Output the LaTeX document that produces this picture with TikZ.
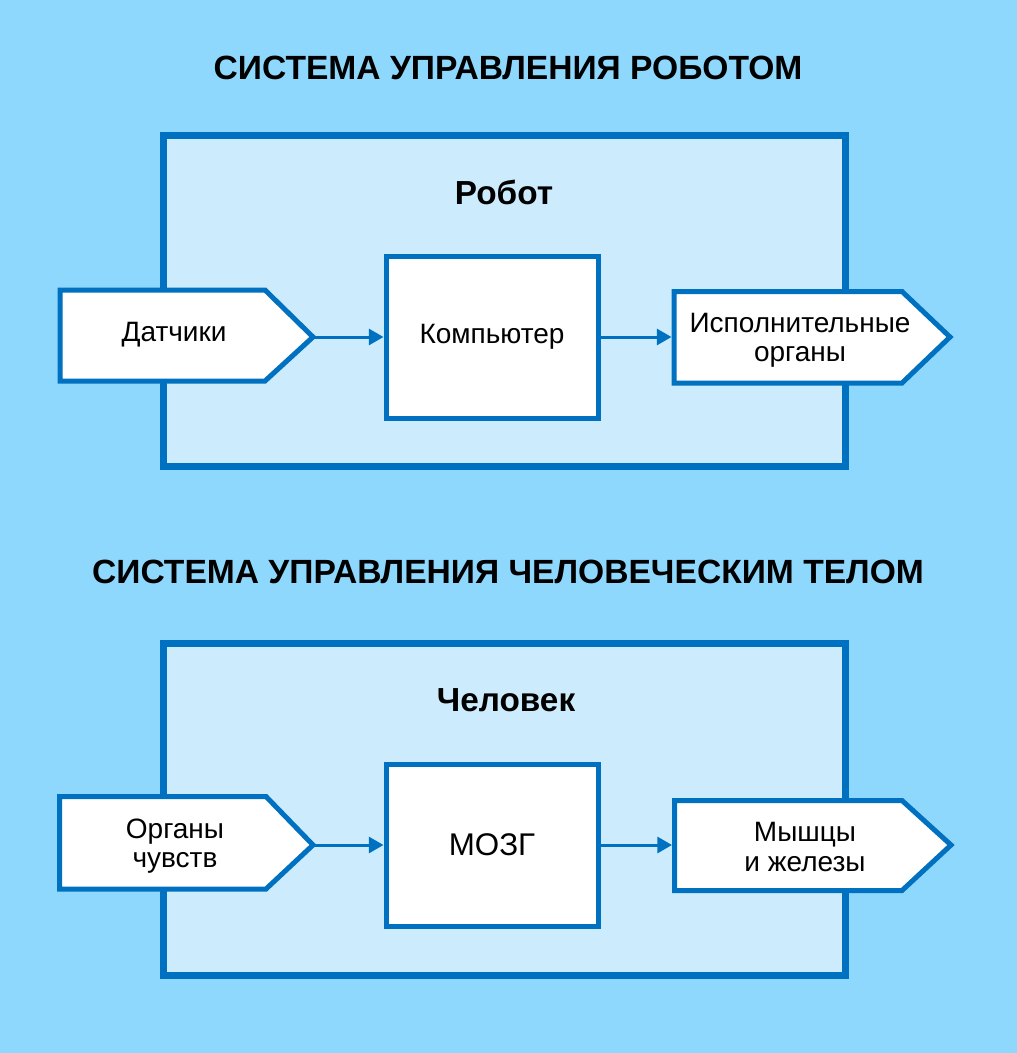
\documentclass[tikz,border=0pt]{standalone}
\usepackage{fontspec}
\setmainfont{Liberation Sans}
\usetikzlibrary{arrows.meta}
\definecolor{skyback}{RGB}{143,216,253}
\definecolor{paleblue}{RGB}{204,236,254}
\definecolor{lineblue}{RGB}{0,112,192}
\tikzset{
  outerbox/.style={draw=lineblue, fill=paleblue, line width=5.25pt},
  unit/.style={draw=lineblue, fill=white, line width=3.75pt, minimum width=159pt, minimum height=121.5pt, font=\fontsize{21}{22}\selectfont},
  port/.style={draw=lineblue, fill=white, line width=3.75pt, line join=miter},
  portlabel/.style={align=center, font=\fontsize{21}{22}\selectfont},
  heading/.style={font=\bfseries\fontsize{25.2}{28}\selectfont},
  boxtitle/.style={font=\bfseries\fontsize{25}{28}\selectfont},
  flow/.style={draw=lineblue, line width=2.25pt, -{Triangle[length=11pt,width=12pt]}}
}
\begin{document}
\begin{tikzpicture}[x=0.75pt, y=0.75pt]
    \fill [skyback] (0,0) rectangle (1017,-1053);
    % robot
    \node [heading] (title1) at (508,-68) {СИСТЕМА УПРАВЛЕНИЯ РОБОТОМ};
    \draw [outerbox] (163.5,-135.5) rectangle (845.5,-466.5);
    \node [boxtitle] (robot) at (504,-192) {Робот};
    \draw [port] (60,-290) -- (265,-290) -- (313,-337) -- (265,-381) -- (60,-381) -- cycle;
    \coordinate (sensout) at (313,-337);
    \node [portlabel] (sens) at (174,-335) {Датчики};
    \node [unit] (comp) at (492,-337) {Компьютер};
    \draw [port] (674,-291.5) -- (902,-291.5) -- (950,-337) -- (902,-383) -- (674,-383) -- cycle;
    \coordinate (actin) at (671.5,-337);
    \node [portlabel] (act) at (800,-340) {Исполнительные\\органы};
    \draw [flow] (sensout) -- (comp);
    \draw [flow] (comp) -- (actin);
    % human
    \node [heading] (title2) at (508,-572) {СИСТЕМА УПРАВЛЕНИЯ ЧЕЛОВЕЧЕСКИМ ТЕЛОМ};
    \draw [outerbox] (163.5,-643.5) rectangle (845.5,-975.5);
    \node [boxtitle] (human) at (506,-700) {Человек};
    \draw [port] (59.5,-796.5) -- (266,-796.5) -- (313,-845) -- (266,-889) -- (59.5,-889) -- cycle;
    \coordinate (sensesout) at (313,-845);
    \node [portlabel] (senses) at (175,-846) {Органы\\чувств};
    \node [unit, font=\fontsize{23.5}{26}\selectfont] (brain) at (492,-845) {МОЗГ};
    \draw [port] (674.5,-800.5) -- (902,-800.5) -- (951,-845) -- (902,-890.5) -- (674.5,-890.5) -- cycle;
    \coordinate (musclein) at (672,-845);
    \node [portlabel] (muscle) at (805,-847) {Мышцы\\и железы};
    \draw [flow] (sensesout) -- (brain);
    \draw [flow] (brain) -- (musclein);
\end{tikzpicture}
\end{document}
